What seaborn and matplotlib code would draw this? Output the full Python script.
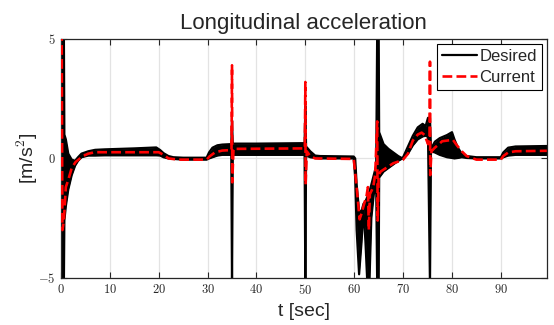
import numpy as np
import pandas as pd
import matplotlib
matplotlib.use("Agg")
import matplotlib.pyplot as plt
from matplotlib.ticker import FuncFormatter
import seaborn as sns

# DESIRED SIGNAL: envelope of the fast oscillation (time, upper, lower)
desired_t = [0.0, 0.6, 0.7, 1.0, 1.5, 2.2, 2.9, 3.5, 4.2, 5.6, 7.0, 9.0, 12.0, 15.0,
             19.5, 20.3, 21.0, 22.0, 23.0, 25.0, 29.8, 30.3, 31.0, 32.0, 33.0, 34.85,
             35.0, 35.15, 35.5, 40.0, 45.0, 49.85, 50.0, 50.15, 51.0, 52.0, 53.0, 59.9,
             60.2, 60.5, 61.0, 61.5, 61.9, 62.3, 62.7, 63.1, 63.5, 64.0, 64.5, 64.7,
             65.0, 65.1, 66.0, 67.0, 68.0, 69.0, 69.7, 70.0, 71.0, 72.0, 73.0, 74.0,
             74.6, 75.1, 75.5, 75.7, 76.5, 77.5, 79.0, 80.0, 80.5, 81.2, 82.0, 83.0,
             85.0, 90.0, 90.5, 91.5, 93.0, 99.4]
desired_hi = [5.3, 5.3, 1.0, 0.8, 0.2, -0.05, -0.1, 0.05, 0.2, 0.3, 0.36, 0.38, 0.4, 0.42,
              0.46, 0.35, 0.22, 0.1, 0.05, 0.03, 0.03, 0.25, 0.45, 0.55, 0.58, 0.6,
              1.6, 0.6, 0.62, 0.62, 0.63, 0.64, 2.2, 0.5, 0.3, 0.12, 0.1, 0.08,
              0.0, -1.1, -2.2, -2.2, -1.9, -1.8, -1.6, -1.4, -1.1, -0.7, -0.3, 5.3,
              5.3, 1.1, 0.6, 0.4, 0.25, 0.1, 0.02, 0.05, 0.5, 0.95, 1.3, 1.45,
              1.35, 1.7, 1.7, 0.4, 0.7, 0.85, 0.98, 1.1, 0.8, 0.45, 0.2, 0.1,
              0.05, 0.05, 0.25, 0.45, 0.5, 0.52]
desired_lo = [-5.3, -5.3, -2.6, -2.0, -1.3, -0.7, -0.3, -0.1, 0.05, 0.12, 0.12, 0.13, 0.13, 0.13,
              0.13, 0.12, 0.05, 0.0, -0.02, -0.05, -0.05, 0.0, 0.05, 0.12, 0.15, 0.15,
              -5.3, 0.15, 0.15, 0.15, 0.15, 0.15, -5.3, 0.12, 0.05, 0.02, 0.0, 0.0,
              -0.8, -3.0, -4.85, -3.5, -2.1, -3.5, -5.3, -5.3, -2.5, -1.5, -1.2, -5.3,
              -5.3, -0.8, -0.55, -0.4, -0.25, -0.1, -0.02, 0.0, 0.2, 0.55, 0.8, 0.92,
              0.95, 0.9, -5.3, 0.3, 0.25, 0.15, 0.05, 0.02, 0.0, 0.02, 0.05, 0.02,
              0.0, 0.0, 0.05, 0.12, 0.15, 0.15]

# CURRENT SIGNAL
current_t = [0.0, 0.15, 0.3, 0.6, 1.0, 1.5, 2.2, 3.0, 3.6, 4.5, 5.6, 7.0, 20.0, 21.0,
             22.0, 24.0, 29.8, 30.5, 31.5, 33.0, 34.9, 35.0, 35.05, 35.3, 49.9, 50.0,
             50.05, 50.3, 51.0, 52.0, 59.9, 60.5, 61.1, 61.5, 62.1, 62.5, 62.8, 63.0,
             63.2, 63.9, 64.3, 64.7, 64.8, 65.0, 65.4, 68.0, 69.5, 70.0, 71.0, 72.0,
             73.0, 73.8, 74.4, 75.1, 75.45, 75.5, 75.55, 75.8, 76.5, 78.0, 80.2, 81.0,
             82.0, 83.0, 85.0, 90.0, 90.5, 91.5, 93.0, 99.4]
current_v = [5.3, 5.3, -3.0, -2.6, -1.2, -0.9, -0.4, -0.15, -0.05, 0.1, 0.2, 0.26, 0.26, 0.15,
             0.0, -0.05, -0.05, 0.1, 0.25, 0.33, 0.35, 3.9, -1.0, 0.4, 0.42, 3.2,
             -1.1, 0.3, 0.1, 0.0, -0.02, -1.2, -2.55, -2.3, -1.85, -1.6, -1.2, -3.0,
             -1.5, -1.2, -0.65, 1.55, -2.6, -0.7, -0.55, -0.2, -0.1, -0.05, 0.2, 0.75,
             1.0, 1.08, 0.98, 0.6, 0.9, 4.05, -0.7, 0.3, 0.45, 0.72, 0.78, 0.55,
             0.3, 0.1, -0.05, -0.05, 0.1, 0.25, 0.3, 0.32]

x_ticks = [0, 10, 20, 30, 40, 50, 60, 70, 80, 90]
y_ticks = [-5, 0, 5]

desired_df = pd.DataFrame({"t": desired_t, "hi": desired_hi, "lo": desired_lo})
current_df = pd.DataFrame({"t": current_t, "v": current_v})

sns.set_style("ticks")
plt.rcParams["font.family"] = ["Liberation Sans", "DejaVu Sans"]
plt.rcParams["mathtext.fontset"] = "cm"

fig = plt.figure(figsize=(5.54, 3.25), dpi=100)
ax = fig.add_axes([0.110, 0.145, 0.877, 0.735])

# desired band + edges
ax.fill_between(desired_df["t"], desired_df["lo"], desired_df["hi"], color="black", lw=0, zorder=2)
sns.lineplot(data=desired_df, x="t", y="hi", color="black", lw=1.6, sort=False,
             estimator=None, label="Desired", ax=ax, zorder=2)
sns.lineplot(data=desired_df, x="t", y="lo", color="black", lw=1.6, sort=False,
             estimator=None, ax=ax, zorder=2)

# current
sns.lineplot(data=current_df, x="t", y="v", color="#ff0000", lw=1.9, linestyle="--",
             sort=False, estimator=None, label="Current", ax=ax, zorder=3)

ax.set_xlim(0, 99.4)
ax.set_ylim(-5, 5)
ax.set_xticks(x_ticks)
ax.set_yticks(y_ticks)
ax.xaxis.set_major_formatter(FuncFormatter(lambda v, p: f"${v:g}$"))
ax.yaxis.set_major_formatter(FuncFormatter(lambda v, p: f"${v:g}$"))
ax.tick_params(direction="in", top=True, right=True, length=4, width=0.8,
               labelsize=9, pad=4, color="#262626")
for s in ax.spines.values():
    s.set_color("#262626")
    s.set_linewidth(0.9)
ax.grid(True, color="#e3e3e3", lw=0.9)
ax.set_axisbelow(True)

ax.set_title("Longitudinal acceleration", fontsize=16, pad=7)
ax.set_xlabel("t [sec]", fontsize=14, labelpad=4)
ax.set_ylabel(r"[m/s$^{\mathsf{2}}$]", fontsize=14, labelpad=-1.5)

leg = ax.legend(loc="upper right", fontsize=12, fancybox=False, framealpha=1,
                edgecolor="black", handlelength=2.1, handletextpad=0.15,
                borderpad=0.3, labelspacing=0.35, borderaxespad=0.3)
leg.get_frame().set_linewidth(0.8)
leg.set_zorder(5)

fig.savefig("out.png", dpi=100)
